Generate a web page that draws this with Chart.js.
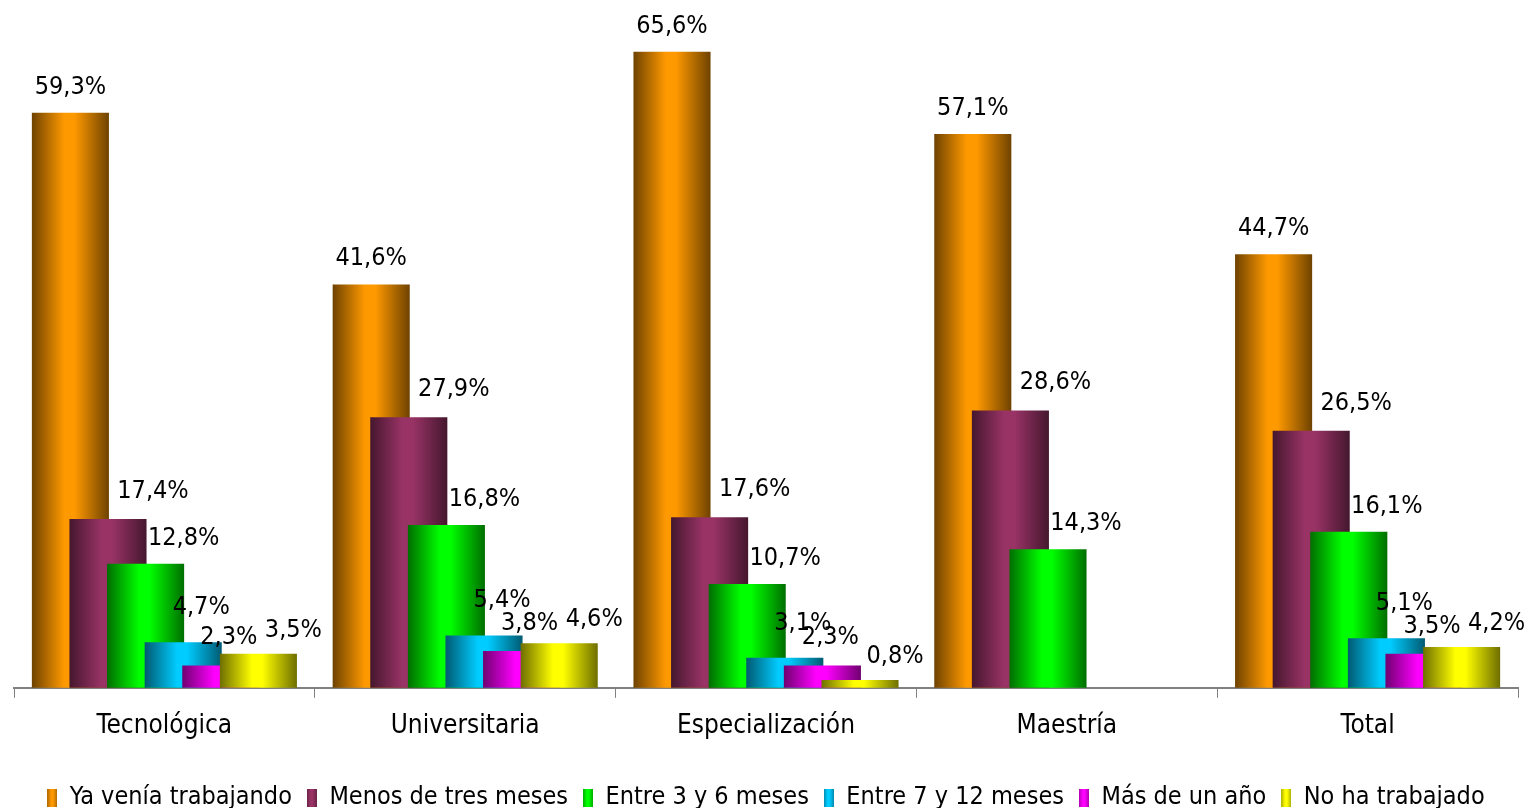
<!DOCTYPE html>
<html>
<head>
<meta charset="utf-8">
<script src="https://cdn.jsdelivr.net/npm/chart.js@4.4.1/dist/chart.umd.min.js"></script>
<style>
  html, body { margin: 0; padding: 0; background: #fff; }
  #wrap { width: 1538px; height: 808px; }
</style>
</head>
<body>
<div id="wrap"><canvas id="chart"></canvas></div>
<script>
// data
const categories = ['Tecnológica', 'Universitaria', 'Especialización', 'Maestría', 'Total'];
const seriesNames = ['Ya venía trabajando', 'Menos de tres meses', 'Entre 3 y 6 meses',
  'Entre 7 y 12 meses', 'Más de un año', 'No ha trabajado'];
const yaVenia = [59.3, 41.6, 65.6, 57.1, 44.7];
const menosTres = [17.4, 27.9, 17.6, 28.6, 26.5];
const entre3y6 = [12.8, 16.8, 10.7, 14.3, 16.1];
const entre7y12 = [4.7, 5.4, 3.1, null, 5.1];
const masUnAno = [2.3, 3.8, 2.3, null, 3.5];
const noHaTrabajado = [3.5, 4.6, 0.8, null, 4.2];

const seriesValues = [yaVenia, menosTres, entre3y6, entre7y12, masUnAno, noHaTrabajado];

// bright centre / dark edge of each bar's shading
const midColors = ['#FF9900', '#993366', '#00FF00', '#00CCFF', '#FF00FF', '#FFFF00'];
const edgeColors = ['#6E4200', '#45172E', '#006E00', '#005A72', '#700070', '#6E6E00'];
// label nudges per series (excel labels were moved by hand)
const labelDx = [0, 45, 38, 18, 8, 35];
const labelDy = [13, 15, 13, 22, 15, 11];

const FONT = '"DejaVu Sans Condensed", "DejaVu Sans", sans-serif';

function shade(ctx, i, x0, x1) {
  const g = ctx.createLinearGradient(x0, 0, x1, 0);
  g.addColorStop(0, edgeColors[i]);
  g.addColorStop(0.42, midColors[i]);
  g.addColorStop(0.55, midColors[i]);
  g.addColorStop(1, edgeColors[i]);
  return g;
}

// little shaded swatches for the legend
const swatches = midColors.map((c, i) => {
  const cv = document.createElement('canvas');
  cv.width = 10;
  cv.height = 18;
  const c2 = cv.getContext('2d');
  c2.fillStyle = shade(c2, i, -3, 13);
  c2.fillRect(0, 0, 10, 18);
  return cv;
});

// shade bars and draw them so later series sit on top (like excel)
const barPlugin = {
  id: 'bars',
  beforeDatasetsDraw(chart) {
    const ctx = chart.ctx;
    chart.data.datasets.forEach((ds, i) => {
      const meta = chart.getDatasetMeta(i);
      meta.data.forEach(el => {
        if (!el.options) return;
        el.options.backgroundColor = shade(ctx, i, el.x - el.width / 2, el.x + el.width / 2);
      });
    });
    chart.data.datasets.forEach((ds, i) => {
      chart.getDatasetMeta(i).controller.draw();
    });
    return false;
  },
  afterDraw(chart) {
    const ctx = chart.ctx;
    ctx.save();
    ctx.font = '25px ' + FONT;
    ctx.fillStyle = '#000';
    ctx.textAlign = 'center';
    ctx.textBaseline = 'bottom';
    chart.data.datasets.forEach((ds, i) => {
      chart.getDatasetMeta(i).data.forEach((el, j) => {
        const v = ds.data[j];
        if (v === null || v === undefined) return;
        const txt = v.toFixed(1).replace('.', ',') + '%';
        ctx.fillText(txt, el.x + labelDx[i], el.y - labelDy[i]);
      });
    });
    ctx.restore();
  }
};

new Chart(document.getElementById('chart'), {
  type: 'bar',
  data: {
    labels: categories,
    datasets: seriesValues.map((vals, i) => ({
      label: seriesNames[i],
      data: vals,
      backgroundColor: () => midColors[i],
      borderWidth: 0,
      categoryPercentage: 0.75,
      barPercentage: 2.05
    }))
  },
  options: {
    responsive: true,
    maintainAspectRatio: false,
    animation: false,
    layout: { padding: { left: 14, right: 20, top: 9, bottom: -12 } },
    plugins: {
      tooltip: { enabled: false },
      legend: {
        position: 'bottom',
        labels: {
          font: { size: 25, family: FONT },
          color: '#000',
          usePointStyle: true,
          pointStyleWidth: 10,
          boxWidth: 10,
          boxHeight: 18,
          padding: 15,
          generateLabels: chart => chart.data.datasets.map((ds, i) => ({
            text: ds.label,
            fillStyle: midColors[i],
            strokeStyle: midColors[i],
            lineWidth: 0,
            pointStyle: swatches[i],
            datasetIndex: i
          }))
        }
      }
    },
    scales: {
      x: {
        afterFit: s => { s.height += 15; },
        grid: { display: true, drawOnChartArea: false, offset: true, tickLength: 10, color: '#808080', lineWidth: 1 },
        border: { display: true, color: '#808080', width: 2 },
        ticks: { font: { size: 26, family: FONT }, color: '#000', padding: 13 }
      },
      y: {
        display: false,
        min: 0,
        max: 70
      }
    }
  },
  plugins: [barPlugin]
});
</script>
</body>
</html>
